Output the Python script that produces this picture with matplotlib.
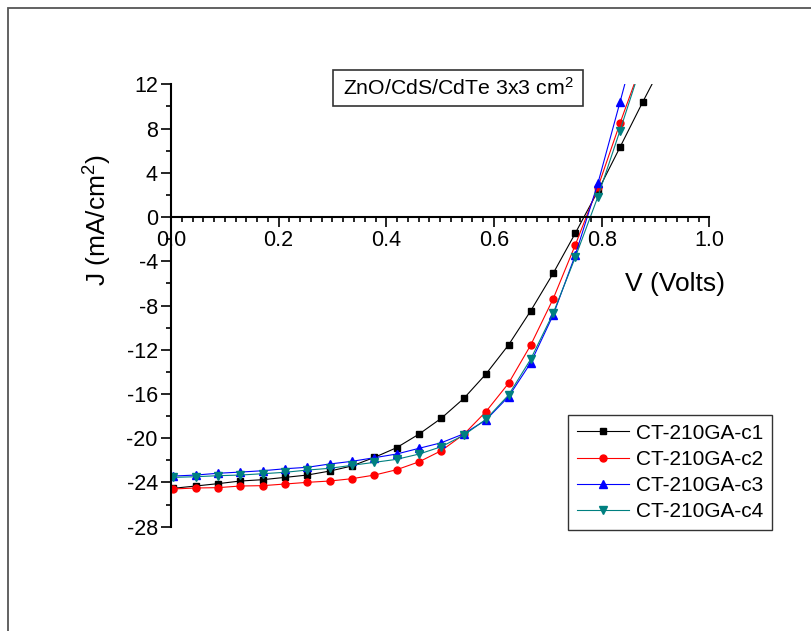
import matplotlib
matplotlib.use("Agg")
import matplotlib.pyplot as plt
from matplotlib.patches import Rectangle
from matplotlib.ticker import MultipleLocator

plt.rcParams['font.family'] = ['Liberation Sans', 'DejaVu Sans']
plt.rcParams['mathtext.fontset'] = 'custom'
plt.rcParams['mathtext.rm'] = 'Liberation Sans'
plt.rcParams['mathtext.it'] = 'Liberation Sans:italic'
plt.rcParams['axes.unicode_minus'] = False

# bias voltage (V) and current density (mA/cm2) for the four cells
voltage = [0.004, 0.046, 0.087, 0.129, 0.170, 0.212, 0.253, 0.295, 0.336, 0.378,
           0.419, 0.461, 0.502, 0.544, 0.585, 0.627, 0.668, 0.710, 0.751, 0.793,
           0.834, 0.876, 0.917]
j_c1 = [-24.53, -24.32, -24.11, -23.87, -23.75, -23.54, -23.33, -22.97, -22.51, -21.73,
        -20.86, -19.62, -18.20, -16.40, -14.20, -11.57, -8.50, -5.09, -1.47, 2.35,
        6.30, 10.37, 14.2]
j_c2 = [-24.59, -24.50, -24.47, -24.32, -24.29, -24.14, -23.99, -23.87, -23.66, -23.33,
        -22.85, -22.13, -21.13, -19.65, -17.60, -15.04, -11.60, -7.39, -2.53, 2.69,
        8.47, 14.1]
j_c3 = [-23.42, -23.33, -23.17, -23.06, -22.94, -22.76, -22.63, -22.33, -22.09, -21.76,
        -21.43, -20.91, -20.41, -19.60, -18.35, -16.25, -13.20, -8.86, -3.44, 3.04,
        10.37, 18.0]
j_c4 = [-23.54, -23.48, -23.39, -23.33, -23.21, -23.08, -22.88, -22.72, -22.45, -22.18,
        -21.91, -21.43, -20.77, -19.72, -18.30, -16.10, -12.87, -8.70, -3.65, 1.83,
        7.80, 14.1]

labels = ['CT-210GA-c1', 'CT-210GA-c2', 'CT-210GA-c3', 'CT-210GA-c4']
series = [j_c1, j_c2, j_c3, j_c4]
colors = ['#000000', '#ff0000', '#0000ff', '#008080']
markers = ['s', 'o', '^', 'v']
msizes = [4.5, 5, 5.5, 5.5]

W, H = 811, 631
fig = plt.figure(figsize=(W / 100, H / 100), dpi=100)
ax = fig.add_axes([171 / W, 1 - 526.7 / H, (709.3 - 171) / W, (526.7 - 84.3) / H])

for j, lab, c, m, ms in zip(series, labels, colors, markers, msizes):
    ax.plot(voltage[:len(j)], j, color=c, marker=m, markersize=ms, lw=0.8, label=lab)

ax.set_xlim(0, 1.0)
ax.set_ylim(-28, 12)
ax.spines['top'].set_visible(False)
ax.spines['right'].set_visible(False)
ax.spines['bottom'].set_position(('data', 0))
for s in ('left', 'bottom'):
    ax.spines[s].set_linewidth(1.5)

ax.xaxis.set_major_locator(MultipleLocator(0.2))
ax.xaxis.set_minor_locator(MultipleLocator(0.02))
ax.yaxis.set_major_locator(MultipleLocator(4))
ax.yaxis.set_minor_locator(MultipleLocator(2))
ax.xaxis.set_major_formatter(lambda v, p: f'{v:.1f}')
ax.tick_params(which='major', direction='out', length=7, width=1.2, labelsize=15.5, pad=2.5)
ax.tick_params(which='minor', direction='out', length=3.5, width=1.2)

fig.text(98 / W, 1 - 220 / H, 'J (mA/cm$^2$)', rotation=90, ha='center', va='center', fontsize=19)
fig.text(675 / W, 1 - 284 / H, 'V (Volts)', ha='center', va='center', fontsize=19)

# sample label box
fig.patches.append(Rectangle((333 / W, 1 - 106 / H), 250 / W, 36 / H, transform=fig.transFigure,
                             fill=False, ec='#333333', lw=1.2))
fig.text(458 / W, 1 - 88 / H, 'ZnO/CdS/CdTe 3x3 cm$^2$', ha='center', va='center', fontsize=15.3)

leg = ax.legend(loc='upper left', bbox_to_anchor=(568 / W, 1 - 415 / H), bbox_transform=fig.transFigure,
                fontsize=15, frameon=True, fancybox=False, handlelength=2.5, handletextpad=0.35,
                labelspacing=0.34, borderpad=0.42, borderaxespad=0)
leg.get_frame().set_edgecolor('black')
leg.get_frame().set_linewidth(1.0)

# outer frame around the whole figure
fig.patches.append(Rectangle((7.5 / W, -0.05), 1.1, 1 - 7.5 / H + 0.05, transform=fig.transFigure,
                             fill=False, ec='#555555', lw=1.3))

fig.savefig('out.png', dpi=100)
